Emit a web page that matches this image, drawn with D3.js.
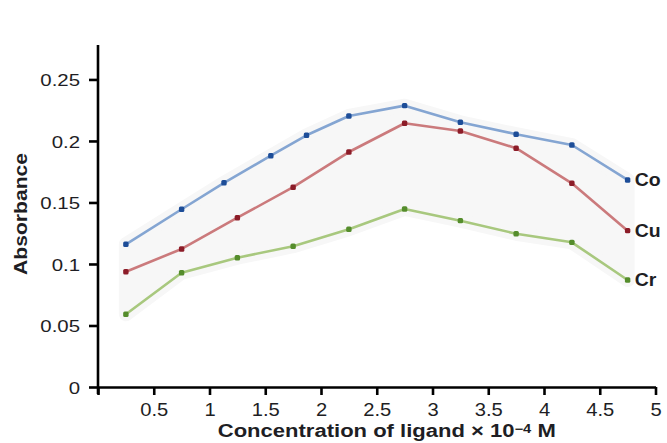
<!DOCTYPE html>
<html>
<head>
<meta charset="utf-8">
<script src="https://cdn.jsdelivr.net/npm/d3@7"></script>
<style>
  html, body { margin: 0; padding: 0; background: #fff; }
  svg { display: block; }
  text { font-family: "Liberation Sans", Arial, sans-serif; fill: #1e1e24; }
</style>
</head>
<body>
<svg id="chart" width="667" height="443"></svg>
<script>
// ---- data ----
const coX = [0.25, 0.75, 1.13, 1.55, 1.87, 2.25, 2.75, 3.25, 3.75, 4.25, 4.75];
const coY = [0.116, 0.1445, 0.166, 0.188, 0.2046, 0.2203, 0.2287, 0.2152, 0.2055, 0.1967, 0.1683];
const cuX = [0.25, 0.75, 1.25, 1.75, 2.25, 2.75, 3.25, 3.75, 4.25, 4.75];
const cuY = [0.0937, 0.1122, 0.1376, 0.1624, 0.191, 0.2144, 0.2081, 0.1941, 0.1656, 0.1271];
const crX = [0.25, 0.75, 1.25, 1.75, 2.25, 2.75, 3.25, 3.75, 4.25, 4.75];
const crY = [0.0591, 0.0929, 0.1051, 0.1144, 0.1282, 0.1447, 0.1352, 0.1246, 0.1176, 0.087];
const seriesNames = ["Co", "Cu", "Cr"];
const xTicks = [0, 0.5, 1, 1.5, 2, 2.5, 3, 3.5, 4, 4.5, 5];
const xTickLabels = ["", "0.5", "1", "1.5", "2", "2.5", "3", "3.5", "4", "4.5", "5"];
const yTicks = [0, 0.05, 0.1, 0.15, 0.2, 0.25];
const yTickLabels = ["0", "0.05", "0.1", "0.15", "0.2", "0.25"];
const xTitle = "Concentration of ligand × 10";
const xTitleSup = "−4";
const xTitleEnd = " M";
const yTitle = "Absorbance";

const series = [
  { name: seriesNames[0], pts: coX.map((x, i) => [x, coY[i]]), line: "#84a5d2", mark: "#1d4d98" },
  { name: seriesNames[1], pts: cuX.map((x, i) => [x, cuY[i]]), line: "#cb7a7c", mark: "#8c1c28" },
  { name: seriesNames[2], pts: crX.map((x, i) => [x, crY[i]]), line: "#a8c87e", mark: "#558d2c" }
];

const svg = d3.select("#chart");
const x = d3.scaleLinear().domain([0, 5]).range([98, 655.5]);
const y = d3.scaleLinear().domain([0, 0.278]).range([387, 45]);

// faint shaded band between top and bottom series
const bandPts = series[0].pts.map(p => [x(p[0]), y(p[1])])
  .concat(series[2].pts.slice().reverse().map(p => [x(p[0]), y(p[1])]));
svg.append("path")
  .attr("d", "M" + bandPts.map(p => p.join(",")).join("L") + "Z")
  .attr("fill", "#f7f7f7")
  .attr("stroke", "#f7f7f7")
  .attr("stroke-width", 14)
  .attr("stroke-linejoin", "round");

// axes
function stretch(sel, factor) {
  sel.each(function () {
    const w = this.getComputedTextLength();
    d3.select(this).attr("textLength", w * factor).attr("lengthAdjust", "spacingAndGlyphs");
  });
}

const xAxis = svg.append("g")
  .attr("transform", `translate(0,${y(0)})`)
  .call(d3.axisBottom(x).tickValues(xTicks).tickFormat((d, i) => xTickLabels[i]).tickSize(8).tickSizeOuter(0));
const yAxis = svg.append("g")
  .attr("transform", `translate(${x(0)},0)`)
  .call(d3.axisLeft(y).tickValues(yTicks).tickFormat((d, i) => yTickLabels[i]).tickSize(9).tickSizeOuter(0).tickPadding(9));

[xAxis, yAxis].forEach(g => {
  g.selectAll("path.domain, line").attr("stroke", "#000").attr("stroke-width", 2.6);
  g.selectAll("text").attr("font-size", 17).style("font-family", '"Liberation Sans", Arial, sans-serif').attr("fill", "#1e1e24");
});
// extend y axis line slightly below the x axis
yAxis.select("path.domain").attr("d", `M0,${y(0) + 7}V${y.range()[1]}`);
xAxis.selectAll("text").attr("y", 29).attr("dy", 0).attr("font-size", 18);
yAxis.selectAll("text").attr("dy", "0.36em");
stretch(xAxis.selectAll("text"), 1.12);
stretch(yAxis.selectAll("text"), 1.2);

// lines & markers
const line = d3.line().x(d => x(d[0])).y(d => y(d[1]));
series.forEach(s => {
  svg.append("path").datum(s.pts)
    .attr("d", line)
    .attr("fill", "none")
    .attr("stroke", s.line)
    .attr("stroke-width", 2.6)
    .attr("stroke-linejoin", "round");
  svg.append("g").selectAll("rect").data(s.pts).join("rect")
    .attr("x", d => x(d[0]) - 2.7)
    .attr("y", d => y(d[1]) - 2.7)
    .attr("width", 5.4)
    .attr("height", 5.4)
    .attr("rx", 1.5)
    .attr("fill", s.mark);
  const last = s.pts[s.pts.length - 1];
  const t = svg.append("text")
    .attr("x", x(last[0]) + 7)
    .attr("y", y(last[1]))
    .attr("dy", "0.36em")
    .attr("font-size", 18)
    .attr("font-weight", "bold")
    .text(s.name);
  stretch(t, 1.08);
});

// axis titles
const xt = svg.append("text")
  .attr("x", (x(0) + x(5)) / 2 + 10)
  .attr("y", 437)
  .attr("text-anchor", "middle")
  .attr("font-size", 18)
  .attr("font-weight", "bold");
xt.append("tspan").text(xTitle);
xt.append("tspan").attr("font-size", 12).attr("dy", -4).text(xTitleSup);
xt.append("tspan").attr("dy", 4).text(xTitleEnd);
xt.attr("textLength", 338).attr("lengthAdjust", "spacingAndGlyphs");

const yt = svg.append("text")
  .attr("transform", `translate(27,${(y(0) + y(0.278)) / 2 - 2}) rotate(-90)`)
  .attr("text-anchor", "middle")
  .attr("font-size", 18)
  .attr("font-weight", "bold")
  .text(yTitle);
yt.attr("textLength", 122).attr("lengthAdjust", "spacingAndGlyphs");
</script>
</body>
</html>
